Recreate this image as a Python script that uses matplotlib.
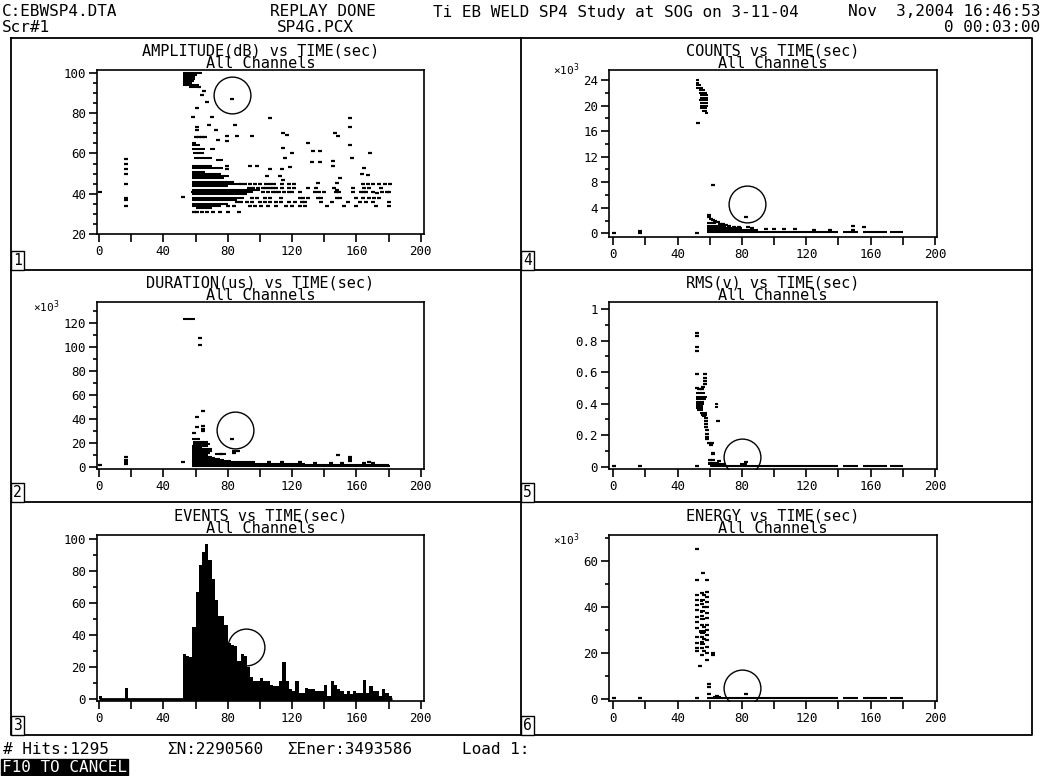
import matplotlib
matplotlib.use('Agg')
import matplotlib.pyplot as plt
from matplotlib.ticker import MultipleLocator, FuncFormatter

plt.rcParams['font.family'] = ['DejaVu Sans Mono', 'DejaVu Sans']

W, H = 1041, 776

# ---------------- data ----------------
# panel 1: amplitude (dB) vs time (s); dense rows are stored as runs
amp_run_db = [100, 99, 98, 97, 96, 95, 94, 93, 65, 64, 62, 62, 60, 58, 57,
              54, 53, 51, 50, 49, 48, 46, 45, 44, 42, 41, 40, 38, 37, 35, 34, 33]
amp_run_t0 = [52.5, 52.5, 52.5, 52.5, 52.5, 52.5, 52.5, 56, 57.5, 57.5, 58, 69, 58.5, 59, 73,
              57.5, 57.5, 58, 58, 58, 58, 58, 58, 58, 57.5, 57, 57.5, 57.5, 57.5, 58, 58, 60]
amp_run_t1 = [64, 61, 59.5, 59.5, 59, 58, 62, 61, 60, 63, 66, 72, 65, 70, 77,
              70, 77, 66, 76, 81, 78, 84, 88, 80, 100, 96, 92, 90, 86, 80, 76, 70]
amp_points = [(0.6, 41), (16.8, 57.5), (16.8, 55), (16.8, 52.5), (16.8, 50), (16.8, 45),
              (16.8, 38), (16.8, 37), (16.8, 34), (52, 38.5),
              (62.4, 93), (65.3, 91), (63.9, 89), (67, 85.5), (60.7, 82.5), (58.3, 78),
              (70, 78), (82.9, 87), (106.3, 77.5), (156.1, 77.5), (156.1, 73), (60.7, 73),
              (60.7, 71.5), (68.6, 74), (84.6, 74), (72.8, 71.5), (79.4, 68.5), (85.6, 68.5),
              (94.9, 68.5), (114.6, 70), (116.7, 69), (146.8, 70), (148.8, 68.5), (130.2, 65),
              (156.1, 64), (74.2, 66.5), (79.4, 66), (114.6, 62.5), (119.8, 60), (133.3, 61),
              (137.4, 61), (157.2, 58), (168.6, 60), (115.7, 58), (132.3, 56), (137.4, 56),
              (145.7, 56.5), (145.7, 54), (118.8, 53.5), (113.6, 52.5), (106.3, 52.5),
              (164.5, 53), (93.9, 54), (98, 54), (79.4, 54), (79.4, 52.5), (163.4, 50),
              (167.5, 49.5), (104.2, 49), (112.6, 49), (114.6, 47), (150, 48), (136.3, 45.5),
              (147.8, 45.5), (180.9, 45), (147.8, 42), (164.5, 41), (172.8, 40.5), (179, 41),
              (60, 68), (62, 68), (64, 68), (66, 68)]
amp_t45 = [88, 91, 94, 97, 100, 104, 106, 109, 114, 118, 121, 164, 167, 170, 174, 178]
amp_t43 = [93, 96, 99, 102, 104, 106, 108, 110, 114, 118, 121, 130, 135, 146, 158, 165, 168, 175]
amp_t41 = [102, 105, 108, 110, 112, 115, 118, 120, 125, 134, 137, 140, 147, 149, 158, 163, 166, 170, 176, 180]
amp_t38 = [95, 98, 103, 106, 113, 125, 127, 130, 136, 138, 148, 150, 160, 164, 168, 171, 174]
amp_t36 = [86, 88, 92, 95, 100, 103, 106, 110, 113, 118, 122, 126, 128, 138, 145, 155, 162, 166, 170, 180]
amp_t34 = [80, 84, 94, 97, 101, 105, 110, 116, 120, 125, 128, 142, 152, 160, 172, 180]
amp_t31 = [59, 61, 64, 67, 71, 75, 80, 87]

# panel 4: counts (x1000) vs time
cnt_run_val = [24.0, 23.6, 23.2, 22.8, 22.4, 22.0, 21.6, 21.2, 20.8, 20.4, 20.0, 19.6, 19.2, 18.9,
               1.6, 1.2, 0.8, 0.5, 0.2, 0.2, 0.2, 0.2]
cnt_run_t0 = [51.5, 51.5, 51.5, 51.5, 53, 53, 54, 54, 53.5, 54, 54, 54, 55, 57,
              58, 58, 58, 58, 58, 143, 155, 172]
cnt_run_t1 = [53, 53, 54.5, 56, 57, 58, 59, 59, 59, 59, 59, 58.5, 58, 59,
              64, 70, 80, 90, 140, 152, 170, 180]
cnt_points = [(52.4, 17.3), (62, 7.5), (59.8, 2.9), (59.8, 2.5), (60.8, 2.2), (62.2, 2.1),
              (63.5, 1.9), (65, 1.7), (66.5, 1.5), (68, 1.4), (70, 1.3), (72, 1.1), (75, 1.0),
              (78, 1.0), (82.5, 2.6), (84, 1.0), (86, 0.9), (95, 0.7), (100, 0.6), (106, 0.6),
              (113, 0.6), (125, 0.5), (135, 0.5), (148.9, 1.1), (156, 1.0), (149, 0.5),
              (0.6, 0.1), (16.8, 0.3), (16.8, 0.1), (51.8, 0.1)]

# panel 2: duration (x1000 us) vs time
dur_run_val = [124, 23, 20.5, 19, 17.5, 16, 14.5, 13, 11.5, 10.5, 10.5, 9.5, 8.5, 7.5, 6.5,
               5.5, 4.5, 3.5, 2.5, 1.5, 0.5]
dur_run_t0 = [52, 58, 58.5, 58.5, 58, 58, 58, 58, 58, 58, 72, 58, 58, 58, 58,
              58, 58, 58, 58, 58, 58]
dur_run_t1 = [59.5, 63, 68, 69, 68, 64, 70, 70, 69, 67, 79, 68, 70, 72, 75,
              78, 82, 97, 128, 180, 181]
dur_points = [(62.8, 108), (62.8, 101.5), (64.5, 47), (60.7, 42), (60.7, 33), (59.3, 28),
              (64.5, 34), (64.5, 31.5), (64.5, 30), (82.5, 23), (84, 13), (86.5, 13),
              (84, 11.5), (76, 10.5), (148.8, 9.6), (156, 8), (156, 6.5), (156, 5),
              (16.8, 8), (16.8, 6), (16.8, 4), (16.8, 2), (0.6, 1), (52, 4), (105.5, 4),
              (114, 4), (125, 3.5), (134, 3), (144, 3), (151, 3), (165, 3), (168, 3.5), (170, 3)]

# panel 5: RMS (V) vs time
rms_run_val = [0.49, 0.47, 0.44, 0.43, 0.41, 0.40, 0.39, 0.38, 0.37, 0.36, 0.34, 0.33, 0.32,
               0.395, 0.38, 0.025, 0.015, 0.02, 0.005, 0.005, 0.005, 0.005]
rms_run_t0 = [52, 51.5, 51.5, 51.5, 51.5, 51.5, 51.5, 51.5, 51.5, 52, 54, 54.5, 55,
              63, 63, 59, 59, 79, 60, 143, 155, 172]
rms_run_t1 = [56, 57, 58, 57.5, 56.5, 56.5, 56, 56, 56, 56, 58, 58, 57.5,
              65, 65, 66, 70, 83, 140, 152, 170, 180]
rms_points = [(51.8, 0.845), (51.8, 0.83), (51.8, 0.76), (51.8, 0.735), (51.8, 0.59),
              (51.8, 0.50), (57.1, 0.585), (57.1, 0.565), (57.1, 0.545), (57.1, 0.525),
              (56, 0.505), (55, 0.495), (54, 0.49), (57.5, 0.31), (57.5, 0.29), (57.8, 0.27),
              (57.8, 0.25), (58, 0.23), (58.3, 0.21), (58.5, 0.19), (58.5, 0.175), (59.5, 0.15),
              (60.5, 0.14), (61.5, 0.15), (61.8, 0.09), (61.8, 0.08), (65, 0.29), (60, 0.045),
              (62, 0.04), (65.7, 0.035), (82.5, 0.03), (0.6, 0.003), (16.8, 0.003), (51.8, 0.003)]

# panel 6: energy (x1000) vs time
eng_run_val = [43, 42.5, 38, 37.5, 34.5, 29.5, 29, 28.5, 24.5, 24, 1, 0.3, 0.3, 0.3, 0.3]
eng_run_t0 = [54, 54, 54, 54, 54, 53.5, 53.5, 54, 54, 54, 62, 58, 143, 155, 172]
eng_run_t1 = [57, 56, 57, 56, 57, 57.5, 57.5, 57, 56.5, 57, 67, 140, 152, 170, 180]
eng_points = [(52.2, 64.9), (51.8, 51.6), (58, 51.6), (55.5, 54.7), (53.9, 14.3), (62, 20),
              (62, 19), (59.8, 6.3), (59.8, 5.3), (59.8, 2), (64.5, 1.1), (82.5, 2),
              (58, 46.6), (58, 44.4), (58, 42.2), (58, 40.0), (58, 37.2), (58, 35), (58, 32.1),
              (58, 29.9), (58, 27.8), (58, 25.6), (58, 22.7), (58, 19.8), (58, 16.9),
              (52, 45.1), (52, 42.9), (52, 40.8), (52, 38.6), (52, 35.7), (52, 33.5),
              (52, 30.6), (52, 27), (52, 24.2), (52, 22), (52, 20.6),
              (55, 46), (55, 41), (55, 36), (55, 32), (55, 27), (55, 22), (55, 19),
              (56.5, 45), (56.5, 40), (56.5, 31), (56.5, 26), (56.5, 21),
              (0.6, 0.3), (16.8, 0.3), (51.8, 0.3)]

# panel 3: events per 2 s bin
event_bins = list(range(0, 182, 2))
event_counts = [2, 0, 0, 0, 0, 0, 0, 0, 7, 0, 0, 0, 0, 0, 0, 0, 0, 0, 0, 0, 0, 0, 0, 0, 0, 0,
                28, 27, 26, 45, 67, 84, 92, 97, 87, 75, 62, 52, 52, 46, 35, 34, 33, 24, 28, 27,
                20, 14, 11, 11, 13, 11, 11, 9, 8, 8, 11, 23, 11, 6, 5, 11, 4, 4, 7, 6,
                6, 5, 5, 5, 9, 2, 11, 9, 6, 5, 3, 5, 3, 5, 4, 4, 12, 4, 8, 5, 5, 2, 6, 4, 2]

# cursor circles (time, value)
cursor_pos = {1: (82.7, 89), 2: (84.6, 30.7), 3: (91.2, 32.3),
              4: (83.3, 4.66), 5: (80.2, 0.06), 6: (80.2, 4.9)}

# ---------------- figure ----------------
fig = plt.figure(figsize=(W / 100, H / 100), dpi=100)
fig.patch.set_facecolor('white')

bg = fig.add_axes([0, 0, 1, 1])
bg.set_xlim(0, W)
bg.set_ylim(H, 0)
bg.axis('off')

# panel frames
bg.plot([11, 1032, 1032, 11, 11], [38, 38, 735, 735, 38], color='k', lw=1.3)
bg.plot([521, 521], [38, 735], color='k', lw=1.3)
bg.plot([11, 1032], [270, 270], color='k', lw=1.3)
bg.plot([11, 1032], [502, 502], color='k', lw=1.3)

# header
hs = 11.5
bg.text(2, 12, 'C:EBWSP4.DTA', fontsize=hs, va='center')
bg.text(2, 27, 'Scr#1', fontsize=hs, va='center')
bg.text(270, 12, 'REPLAY DONE', fontsize=hs, va='center')
bg.text(277, 27, 'SP4G.PCX', fontsize=hs, va='center')
bg.text(433, 12, 'Ti EB WELD SP4 Study at SOG on 3-11-04', fontsize=hs, va='center')
bg.text(1040, 12, 'Nov  3,2004 16:46:53', fontsize=hs, va='center', ha='right')
bg.text(1040, 27, '0 00:03:00', fontsize=hs, va='center', ha='right')

# footer
bg.text(3, 749, '# Hits:1295', fontsize=hs, va='center')
bg.text(167, 749, 'ΣN:2290560', fontsize=hs, va='center')
bg.text(287, 749, 'ΣEner:3493586', fontsize=hs, va='center')
bg.text(462, 749, 'Load 1:', fontsize=hs, va='center')
bg.text(2, 767, 'F10 TO CANCEL', fontsize=hs, va='center', color='white',
        bbox=dict(boxstyle='square,pad=0.05', fc='black', ec='black'))


def add_panel(l, t, r, b, xlim, ylim, major, minor, title, num, corner):
    ax = fig.add_axes([l / W, 1 - b / H, (r - l) / W, (b - t) / H])
    ax.set_xlim(*xlim)
    ax.set_ylim(*ylim)
    ax.xaxis.set_major_locator(MultipleLocator(20))
    ax.xaxis.set_major_formatter(FuncFormatter(
        lambda v, p: '%d' % round(v) if round(v) % 40 == 0 else ''))
    ax.yaxis.set_major_locator(MultipleLocator(major))
    ax.yaxis.set_minor_locator(MultipleLocator(minor))
    ax.yaxis.set_major_formatter(FuncFormatter(lambda v, p: '%g' % round(v, 2)))
    ax.tick_params(direction='out', length=6, width=1.2, labelsize=9, pad=2)
    ax.tick_params(which='minor', length=2.7, width=1.2)
    for s in ax.spines.values():
        s.set_linewidth(1.2)
    # two-line title as one text, lines packed tight like the screen font
    bg.text((l + r) / 2, t + 1, title + '\nAll Channels', fontsize=11, ha='center',
            va='bottom', multialignment='center', linespacing=0.78)
    bg.text(corner[0] + 2, corner[1] - 2, str(num), fontsize=10.5, ha='left', va='bottom',
            bbox=dict(boxstyle='square,pad=0.12', fc='white', ec='black', lw=1))
    cur = cursor_pos[num]
    ax.plot([cur[0]], [cur[1]], marker='o', ms=26.5, mfc='none', mec='k', mew=1.0, ls='none')
    return ax


def dashes(ax, pts):
    xs = [p[0] for p in pts]
    ys = [p[1] for p in pts]
    ax.plot(xs, ys, ls='none', marker='_', ms=2.6, mew=1.6, color='k')


def x10(x, y):
    bg.text(x, y, '×10$^{3}$', fontsize=8, ha='left', va='center')


xl_left = (-1.24, 202.0)
xl_right = (-2.5, 201.1)

# 1 amplitude
ax1 = add_panel(97, 70, 424, 234.3, xl_left, (20, 101.3), 20, 5,
                'AMPLITUDE(dB) vs TIME(sec)', 1, (11, 270))
ax1.hlines(amp_run_db, amp_run_t0, amp_run_t1, colors='k', lw=1.5)
dashes(ax1, amp_points)
for db, ts in [(45, amp_t45), (43, amp_t43), (41, amp_t41), (38, amp_t38),
               (36, amp_t36), (34, amp_t34), (31, amp_t31)]:
    dashes(ax1, [(tt, db) for tt in ts])

# 4 counts
ax4 = add_panel(609.3, 70, 936.7, 237.3, xl_right, (-0.63, 25.57), 4, 2,
                'COUNTS vs TIME(sec)', 4, (521, 270))
ax4.hlines(cnt_run_val, cnt_run_t0, cnt_run_t1, colors='k', lw=1.5)
dashes(ax4, cnt_points)
x10(553, 70)

# 2 duration
ax2 = add_panel(97, 302.3, 424, 469.3, xl_left, (-2.2, 137.6), 20, 10,
                'DURATION(us) vs TIME(sec)', 2, (11, 502))
ax2.hlines(dur_run_val, dur_run_t0, dur_run_t1, colors='k', lw=1.5)
dashes(ax2, dur_points)
x10(33, 307)

# 5 rms
ax5 = add_panel(609.3, 302.3, 936.7, 469.3, xl_right, (-0.0165, 1.0425), 0.2, 0.1,
                'RMS(v) vs TIME(sec)', 5, (521, 502))
ax5.hlines(rms_run_val, rms_run_t0, rms_run_t1, colors='k', lw=1.5)
dashes(ax5, rms_points)

# 3 events
ax3 = add_panel(97, 535, 424, 701, xl_left, (-1.25, 102.5), 20, 10,
                'EVENTS vs TIME(sec)', 3, (11, 735))
ax3.bar(event_bins, event_counts, width=2, align='edge', color='k', lw=0)
ax3.hlines(0, 0, 182, colors='k', lw=2)

# 6 energy
ax6 = add_panel(609.3, 535, 936.7, 701, xl_right, (-0.87, 71.1), 20, 10,
                'ENERGY vs TIME(sec)', 6, (521, 735))
ax6.hlines(eng_run_val, eng_run_t0, eng_run_t1, colors='k', lw=1.5)
dashes(ax6, eng_points)
x10(553, 540)

fig.savefig('out.png', dpi=100, facecolor='white')
